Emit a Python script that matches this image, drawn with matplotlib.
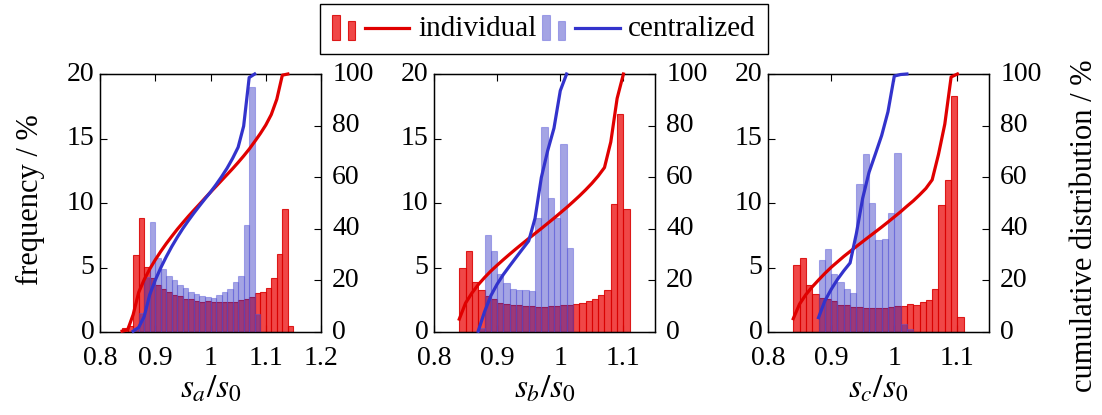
import matplotlib
matplotlib.use('Agg')
import matplotlib.pyplot as plt
import numpy as np
from matplotlib.patches import Rectangle
from matplotlib.lines import Line2D
from matplotlib.legend_handler import HandlerBase

plt.rcParams['font.family'] = ['Liberation Serif', 'DejaVu Serif']
plt.rcParams['mathtext.fontset'] = 'stix'

# ---------------- data (frequency in %, bins of width 0.01) ----------------
bin_width = 0.01

red_a_start = 0.84
red_a = [0.34, 0.5, 6.0, 8.8, 5.06, 4.16, 3.64, 3.33, 3.1, 2.87, 2.8, 2.58, 2.53,
         2.4, 2.35, 2.4, 2.35, 2.3, 2.33, 2.33, 2.33, 2.45, 2.56, 2.7, 3.0, 3.1,
         3.4, 4.16, 6.05, 9.5, 0.47]
blue_a_start = 0.86
blue_a = [0.3, 1.5, 4.3, 8.5, 5.7, 4.85, 4.35, 4.0, 3.65, 3.4, 3.1, 2.95, 2.8,
          2.75, 2.65, 2.9, 3.1, 3.35, 3.85, 4.35, 8.3, 19.0, 1.4]

red_b_start = 0.84
red_b = [5.0, 6.26, 3.88, 3.23, 2.77, 2.54, 2.28, 2.2, 2.12, 2.07, 2.0, 2.0, 1.94,
         1.94, 2.0, 2.0, 2.07, 2.07, 2.2, 2.25, 2.4, 2.56, 2.85, 3.29, 9.96, 16.9, 9.5]
blue_b_start = 0.87
blue_b = [0.3, 7.55, 6.26, 4.53, 3.8, 3.34, 3.26, 3.23, 3.18, 8.8, 15.9, 10.4, 8.8,
          14.6, 6.5]

red_c_start = 0.84
red_c = [5.17, 5.7, 3.67, 2.98, 2.66, 2.56, 2.38, 2.12, 2.12, 1.94, 1.94, 1.89, 1.89,
         1.86, 1.89, 1.94, 2.0, 2.0, 2.15, 2.07, 2.33, 2.5, 3.36, 9.88, 11.77, 18.3, 1.16]
blue_c_start = 0.88
blue_c = [5.6, 6.47, 4.5, 3.9, 3.35, 3.06, 11.5, 13.76, 10.0, 7.1, 7.24, 9.24, 13.9,
          0.6, 0.2]

xlabels = ['$s_a/s_0$', '$s_b/s_0$', '$s_c/s_0$']
xlims = [(0.8, 1.2), (0.8, 1.15), (0.8, 1.15)]
xticks_list = [[0.8, 0.9, 1.0, 1.1, 1.2], [0.8, 0.9, 1.0, 1.1], [0.8, 0.9, 1.0, 1.1]]
xticklabels_list = [['0.8', '0.9', '1', '1.1', '1.2'], ['0.8', '0.9', '1', '1.1'],
                    ['0.8', '0.9', '1', '1.1']]
freq_ticks = [0, 5, 10, 15, 20]
cdf_ticks = [0, 20, 40, 60, 80, 100]
series_labels = ['individual', 'centralized']
left_label = 'frequency / %'
right_label = 'cumulative distribution / %'

panels = [(red_a_start, red_a, blue_a_start, blue_a),
          (red_b_start, red_b, blue_b_start, blue_b),
          (red_c_start, red_c, blue_c_start, blue_c)]

# ---------------- style ----------------
FS = 20
red_face = (0.92, 0.0, 0.0, 0.72)
red_edge = (0.85, 0.0, 0.0, 0.85)
blue_face = (0.15, 0.15, 0.75, 0.42)
blue_edge = (0.35, 0.35, 0.85, 0.45)
red_line = '#e00000'
blue_line = '#3333cc'

fig = plt.figure(figsize=(11.02, 4.15), dpi=100)
W, H = 1102.0, 415.0
lefts = [100, 434, 768]
ax_w = 221
ax_bottom = 332
ax_top = 74

for i, (rs, rv, bs, bv) in enumerate(panels):
    ax = fig.add_axes([lefts[i] / W, 1 - ax_bottom / H, ax_w / W, (ax_bottom - ax_top) / H])
    red_edges = rs + bin_width * np.arange(len(rv))
    blue_edges = bs + bin_width * np.arange(len(bv))
    ax.bar(red_edges, rv, width=bin_width, align='edge', facecolor=red_face,
           edgecolor=red_edge, linewidth=0.8, zorder=2)
    ax.bar(blue_edges, bv, width=bin_width, align='edge', facecolor=blue_face,
           edgecolor=blue_edge, linewidth=0.8, zorder=3)
    ax.set_xlim(*xlims[i])
    ax.set_ylim(0, 20)
    ax.set_xticks(xticks_list[i])
    ax.set_xticklabels(xticklabels_list[i])
    ax.set_yticks(freq_ticks)
    ax.tick_params(axis='both', direction='in', labelsize=FS, length=5, width=0.8)
    ax.tick_params(axis='x', top=True, pad=10)
    ax.tick_params(axis='y', right=False, pad=4)
    for lab in ax.get_yticklabels():
        lab.set_verticalalignment('center')
    ax.set_xlabel(xlabels[i], fontsize=24, labelpad=2)
    for sp in ax.spines.values():
        sp.set_linewidth(1.0)

    ax2 = ax.twinx()
    ax2.set_ylim(0, 100)
    ax2.set_yticks(cdf_ticks)
    ax2.tick_params(axis='y', direction='in', labelsize=FS, length=5, width=0.8, pad=8)
    for lab in ax2.get_yticklabels():
        lab.set_verticalalignment('center')
    red_cdf = np.cumsum(rv) / np.sum(rv) * 100
    blue_cdf = np.cumsum(bv) / np.sum(bv) * 100
    ax2.plot(red_edges, red_cdf, color=red_line, lw=2.3, clip_on=False, zorder=4)
    ax2.plot(blue_edges, blue_cdf, color=blue_line, lw=2.3, clip_on=False, zorder=5)

fig.text(30 / W, 1 - 200 / H, left_label, rotation=90, ha='center', va='center',
         fontsize=22)
fig.text(1085 / W, 1 - 226 / H, right_label, rotation=90, ha='center', va='center',
         fontsize=22)


class BarLineHandler(HandlerBase):
    def __init__(self, face, edge, lcolor):
        super().__init__()
        self.face = face
        self.edge = edge
        self.lcolor = lcolor

    def create_artists(self, legend, orig_handle, xdescent, ydescent, width, height,
                       fontsize, trans):
        x0, y0 = -xdescent, -ydescent
        bw = 0.1 * width
        base = y0 - 0.2 * height
        r1 = Rectangle((x0, base), bw, height * 1.25, facecolor=self.face,
                       edgecolor=self.edge, linewidth=0.8, transform=trans)
        r2 = Rectangle((x0 + 2.0 * bw, base), bw, height * 0.95, facecolor=self.face,
                       edgecolor=self.edge, linewidth=0.8, transform=trans)
        ln = Line2D([x0 + 0.42 * width, x0 + width], [y0 + 0.4 * height] * 2,
                    color=self.lcolor, lw=2.3, transform=trans)
        return [r1, r2, ln]


h_red = Line2D([], [])
h_blue = Line2D([], [])
leg = fig.legend([h_red, h_blue], series_labels, loc='upper center',
                 bbox_to_anchor=(544 / W, 1 - 4 / H), ncol=2, fontsize=21,
                 frameon=True, fancybox=False, edgecolor='black', framealpha=1,
                 handlelength=2.65, handletextpad=0.3, columnspacing=0.2,
                 borderpad=0.4, borderaxespad=0.0,
                 handler_map={h_red: BarLineHandler(red_face, red_edge, red_line),
                              h_blue: BarLineHandler(blue_face, blue_edge, blue_line)})
leg.get_frame().set_linewidth(1.0)

fig.savefig('out.png', dpi=100)
